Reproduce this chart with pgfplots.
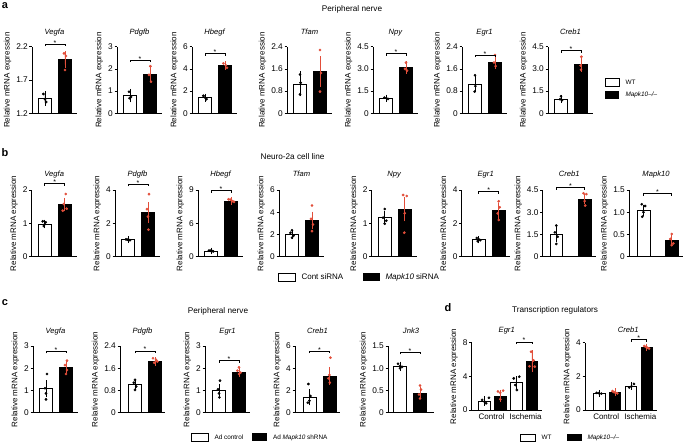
\documentclass[border=0pt]{standalone}
\usepackage{fontspec}
\setmainfont{Liberation Sans}
\usepackage{pgfplots}
\pgfplotsset{compat=1.18}
\definecolor{ptred}{RGB}{226,78,58}
\newcommand\fTick{\fontsize{8.3}{9}\selectfont}
\newcommand\fYl{\fontsize{8}{9}\selectfont}
\newcommand\fGene{\fontsize{7.6}{8}\selectfont\itshape}
\newcommand\fSec{\fontsize{8.2}{9}\selectfont}
\newcommand\fLeg{\fontsize{6.4}{7}\selectfont}
\newcommand\fLegB{\fontsize{8}{9}\selectfont}
\newcommand\fStar{\fontsize{7}{7}\selectfont}
\newcommand\fCat{\fontsize{8}{9}\selectfont}
\newcommand\fLet{\fontsize{11}{12}\selectfont\bfseries}
\newcommand{\sig}[3]{%
  \draw[line width=0.5pt] (axis cs:#1,#3) ++(0pt,-2.2pt) -- ++(0pt,2.2pt) -- (axis cs:#2,#3) -- ++(0pt,-2.2pt);
  \node[font=\fStar, inner sep=0pt, anchor=base, yshift=-1pt] at (axis cs:{(#1+#2)/2},#3) {*};}
\pgfplotsset{
  base/.style={scale only axis, width=45pt, xmin=0.35, xmax=2.6,
    axis x line=bottom, axis y line=left, axis line style={-, line width=0.55pt},
    xtick=\empty, tick align=outside, major tick length=2.5pt,
    tick style={line width=0.55pt, black},
    yticklabel style={font=\fTick, inner sep=1.5pt}, /pgf/number format/assume math mode=true,
    ylabel={Relative mRNA expression}, ylabel style={font=\fYl},
    every axis title/.style={at={(0.5,1)}, anchor=base, font=\fGene},
    clip mode=individual, anchor=south west, bar width=0.65},
  rowa/.style={base, height=66.6pt, title style={yshift=12.5pt}},
  rowb/.style={base, height=66.7pt, title style={yshift=13.5pt}},
  rowc/.style={base, height=66.7pt, title style={yshift=12pt}},
  rowd/.style={base, height=67.3pt, title style={yshift=10pt}},
  wt/.style={ybar, bar shift=0pt, fill=white, draw=black, line width=0.55pt,
    error bars/.cd, y dir=both, y explicit, error bar style={black, line width=0.55pt},
    error mark options={black, line width=0.55pt, mark size=3pt}},
  ko/.style={ybar, bar shift=0pt, fill=black, draw=black, line width=0.55pt,
    error bars/.cd, y dir=both, y explicit, error bar style={ptred, line width=0.55pt},
    error mark options={ptred, line width=0.55pt, mark size=3pt}},
  wp/.style={only marks, mark=*, mark size=1.15pt, black},
  kp/.style={only marks, mark=*, mark size=1.15pt, ptred, mark options={draw=ptred, fill=ptred}},
}
\begin{document}
\begin{tikzpicture}[x=1pt,y=1pt]
\path[use as bounding box] (0,0) rectangle (685,443);

% ================= Row a =================
\node[font=\fLet] at (5,437) {a};
\node[font=\fSec] at (352,434) {Peripheral nerve};

\begin{axis}[rowa, at={(32pt,329.7pt)}, ymin=1.2, ymax=2.2, ytick={1.2,1.7,2.2}, yticklabels={1.2,1.7,2.2}, title={Vegfa}]
\addplot[wt] coordinates {(1,1.42) +- (0,0.065)};
\addplot[ko] coordinates {(2,2.01) +- (0,0.08)};
\addplot[wp] coordinates {(0.92,1.49) (1.0,1.41) (1.06,1.37)};
\addplot[kp] coordinates {(1.95,2.10) (2.05,2.06) (2.0,1.85)};
\sig{1}{2}{2.24}
\end{axis}

\begin{axis}[rowa, at={(117pt,329.7pt)}, ymin=0, ymax=3, ytick={0,1,2,3}, yticklabels={0,1,2,3}, title={Pdgfb}]
\addplot[wt] coordinates {(1,0.80) +- (0,0.17)};
\addplot[ko] coordinates {(2,1.76) +- (0,0.22)};
\addplot[wp] coordinates {(0.95,0.97) (1.05,0.74) (0.98,0.68)};
\addplot[kp] coordinates {(2.02,2.12) (1.95,1.73) (2.05,1.42)};
\sig{1}{2}{2.4}
\end{axis}

\begin{axis}[rowa, at={(192pt,329.7pt)}, ymin=0, ymax=6, ytick={0,2,4,6}, yticklabels={0,2,4,6}, title={Hbegf}]
\addplot[wt] coordinates {(1,1.42) +- (0,0.09)};
\addplot[ko] coordinates {(2,4.30) +- (0,0.12)};
\addplot[wp] coordinates {(0.92,1.58) (1.0,1.42) (1.08,1.27)};
\addplot[kp] coordinates {(1.92,4.50) (2.04,4.32) (2.1,4.10)};
\sig{1}{2}{5.4}
\end{axis}

\begin{axis}[rowa, at={(287pt,329.7pt)}, ymin=0, ymax=2.4, ytick={0,0.8,1.6,2.4}, yticklabels={0,0.8,1.6,2.4}, title={Tfam}]
\addplot[wt] coordinates {(1,1.06) +- (0,0.34)};
\addplot[ko] coordinates {(2,1.50) +- (0,0.44)};
\addplot[wp] coordinates {(1.0,1.40) (1.03,1.10) (1.0,0.68)};
\addplot[kp] coordinates {(2.0,2.28) (2.05,1.45) (2.0,0.78)};
\end{axis}

\begin{axis}[rowa, at={(373pt,329.7pt)}, ymin=0, ymax=4.5, ytick={0,1.5,3,4.5}, yticklabels={0,1.5,3.0,4.5}, title={Npy}]
\addplot[wt] coordinates {(1,1.02) +- (0,0.04)};
\addplot[ko] coordinates {(2,3.10) +- (0,0.22)};
\addplot[wp] coordinates {(0.92,1.06) (1.02,1.02) (1.1,0.97)};
\addplot[kp] coordinates {(2.0,3.42) (1.95,3.00) (2.05,2.88)};
\sig{1}{2}{4.05}
\end{axis}

\begin{axis}[rowa, at={(462pt,329.7pt)}, ymin=0, ymax=2.4, ytick={0,0.8,1.6,2.4}, yticklabels={0,0.8,1.6,2.4}, title={Egr1}]
\addplot[wt] coordinates {(1,1.04) +- (0,0.18)};
\addplot[ko] coordinates {(2,1.85) +- (0,0.14)};
\addplot[wp] coordinates {(1.0,1.37) (1.02,0.98) (0.98,0.78)};
\addplot[kp] coordinates {(2.0,2.10) (1.95,1.83) (2.03,1.70)};
\sig{1}{2}{2.1}
\end{axis}

\begin{axis}[rowa, at={(548pt,329.7pt)}, ymin=0, ymax=4.5, ytick={0,1.5,3,4.5}, yticklabels={0,1.5,3.0,4.5}, title={Creb1}]
\addplot[wt] coordinates {(1,0.98) +- (0,0.07)};
\addplot[ko] coordinates {(2,3.32) +- (0,0.30)};
\addplot[wp] coordinates {(1.0,1.15) (0.95,0.95) (1.05,0.88)};
\addplot[kp] coordinates {(2.02,3.82) (1.98,3.22) (2.0,2.94)};
\sig{1}{2}{4.23}
\end{axis}

\draw[line width=0.5pt, fill=white] (605,357) rectangle (619,365);
\node[font=\fLeg, anchor=west] at (622,361) {WT};
\fill[black] (605,344) rectangle (619,352);
\node[font=\fLeg, anchor=west] at (622,348) {\textit{Mapk10–/–}};

% ================= Row b =================
\node[font=\fLet] at (5,290) {b};
\node[font=\fSec] at (292.5,286) {Neuro-2a cell line};

\begin{axis}[rowb, at={(31.7pt,186.3pt)}, ymin=0, ymax=2, ytick={0,1,2}, yticklabels={0,1,2}, title={Vegfa}]
\addplot[wt] coordinates {(1,0.98) +- (0,0.04)};
\addplot[ko] coordinates {(2,1.56) +- (0,0.11)};
\addplot[wp] coordinates {(0.9,1.06) (1.05,1.03) (1.0,0.97) (0.95,0.92)};
\addplot[kp] coordinates {(2.05,1.88) (1.95,1.58) (2.1,1.44) (1.9,1.38)};
\sig{1}{2}{2.19}
\end{axis}

\begin{axis}[rowb, at={(115pt,186.3pt)}, ymin=0, ymax=4, ytick={0,2,4}, yticklabels={0,2,4}, title={Pdgfb}]
\addplot[wt] coordinates {(1,1.02) +- (0,0.02)};
\addplot[ko] coordinates {(2,2.65) +- (0,0.45)};
\addplot[wp] coordinates {(0.9,1.04) (0.97,1.02) (1.04,1.01) (1.1,0.99)};
\addplot[kp] coordinates {(2.05,3.75) (1.95,2.85) (2.0,2.40) (2.02,1.62)};
\sig{1}{2}{4.35}
\end{axis}

\begin{axis}[rowb, at={(198pt,186.3pt)}, ymin=0, ymax=9, ytick={0,4.5,9}, yticklabels={0,6,9}, title={Hbegf}]
\addplot[wt] coordinates {(1,0.77) +- (0,0.05)};
\addplot[ko] coordinates {(2,7.52) +- (0,0.12)};
\addplot[wp] coordinates {(0.9,0.82) (0.98,0.80) (1.05,0.75) (1.12,0.72)};
\addplot[kp] coordinates {(1.88,7.75) (1.98,7.68) (2.08,7.50) (2.15,7.40)};
\sig{1}{2}{8.9}
\end{axis}

\begin{axis}[rowb, at={(279pt,186.3pt)}, ymin=0, ymax=6, ytick={0,2,4,6}, yticklabels={0,2,4,6}, title={Tfam}]
\addplot[wt] coordinates {(1,1.98) +- (0,0.14)};
\addplot[ko] coordinates {(2,3.28) +- (0,0.50)};
\addplot[wp] coordinates {(1.0,2.38) (0.92,2.15) (1.08,1.90) (1.0,1.70)};
\addplot[kp] coordinates {(2.0,4.60) (1.95,3.40) (2.05,2.90) (2.0,2.30)};
\end{axis}

\begin{axis}[rowb, at={(371.7pt,186.3pt)}, ymin=0, ymax=2, ytick={0,1,2}, yticklabels={0,1,2}, title={Npy}]
\addplot[wt] coordinates {(1,1.17) +- (0,0.10)};
\addplot[ko] coordinates {(2,1.42) +- (0,0.27)};
\addplot[wp] coordinates {(1.0,1.43) (0.92,1.17) (1.08,1.08) (1.0,0.99)};
\addplot[kp] coordinates {(1.92,1.85) (2.1,1.82) (2.0,1.30) (1.98,0.72)};
\end{axis}

\begin{axis}[rowb, at={(461.7pt,186.3pt)}, width=48pt, xmin=0.15, xmax=2.55, ymin=0, ymax=4, ytick={0,2,4}, yticklabels={0,2,4}, title={Egr1}]
\addplot[wt] coordinates {(1,1.02) +- (0,0.04)};
\addplot[ko] coordinates {(2,2.76) +- (0,0.30)};
\addplot[wp] coordinates {(0.9,1.12) (1.0,1.04) (1.08,0.99) (0.95,0.93)};
\addplot[kp] coordinates {(2.0,3.32) (2.05,2.96) (1.95,2.60) (2.0,2.20)};
\sig{1}{2}{3.9}
\end{axis}

\begin{axis}[rowb, at={(542.7pt,186.3pt)}, width=53pt, xmin=0.52, xmax=2.39, bar width=0.44, ymin=0, ymax=4.5, ytick={0,1.5,3,4.5}, yticklabels={0,1.5,3.0,4.5}, title={Creb1}]
\addplot[wt] coordinates {(1,1.53) +- (0,0.33)};
\addplot[ko] coordinates {(2,3.90) +- (0,0.16)};
\addplot[wp] coordinates {(1.0,2.10) (0.95,1.64) (1.05,1.35) (1.0,0.86)};
\addplot[kp] coordinates {(1.96,4.28) (2.06,4.22) (2.0,3.75) (2.02,3.45)};
\sig{1}{2}{4.68}
\end{axis}

\begin{axis}[rowb, at={(629pt,186.3pt)}, width=54pt, xmin=0.49, xmax=2.4, bar width=0.46, ymin=0, ymax=1.5, ytick={0,0.5,1,1.5}, yticklabels={0,0.5,1.0,1.5}, title={Mapk10}]
\addplot[wt] coordinates {(1,1.04) +- (0,0.06)};
\addplot[ko] coordinates {(2,0.37) +- (0,0.06)};
\addplot[wp] coordinates {(0.94,1.18) (1.06,1.14) (1.0,1.00) (0.96,0.90)};
\addplot[kp] coordinates {(2.0,0.51) (1.95,0.40) (2.06,0.30) (2.0,0.26)};
\sig{1}{2}{1.42}
\end{axis}

\draw[line width=0.5pt, fill=white] (278,162) rectangle (295,170);
\node[font=\fLegB, anchor=west] at (298,166) {Cont siRNA};
\fill[black] (363,162) rectangle (380,170);
\node[font=\fLegB, anchor=west] at (382,166) {\textit{Mapk10} siRNA};

% ================= Row c =================
\node[font=\fLet] at (5,140) {c};
\node[font=\fSec] at (218,132) {Peripheral nerve};

\begin{axis}[rowc, at={(33pt,30.3pt)}, ymin=0, ymax=3, ytick={0,1,2,3}, yticklabels={0,1,2,3}, title={Vegfa}]
\addplot[wt] coordinates {(1,1.08) +- (0,0.25)};
\addplot[ko] coordinates {(2,2.04) +- (0,0.13)};
\addplot[wp] coordinates {(1.05,1.74) (0.95,1.10) (1.0,0.87) (1.0,0.60)};
\addplot[kp] coordinates {(2.05,2.34) (1.95,2.14) (2.05,1.92) (2.0,1.74)};
\sig{1}{2}{2.77}
\end{axis}

\begin{axis}[rowc, at={(120pt,30.3pt)}, xmin=0.25, xmax=2.5, ymin=0, ymax=2.4, ytick={0,0.8,1.6,2.4}, yticklabels={0,0.8,1.6,2.4}, title={Pdgfb}]
\addplot[wt] coordinates {(1,1.02) +- (0,0.09)};
\addplot[ko] coordinates {(2,1.84) +- (0,0.05)};
\addplot[wp] coordinates {(1.0,1.18) (0.94,1.08) (1.06,0.94) (1.0,0.82)};
\addplot[kp] coordinates {(1.9,1.96) (2.05,1.90) (2.12,1.84) (1.96,1.80)};
\sig{1}{2}{2.22}
\end{axis}

\begin{axis}[rowc, at={(205pt,30.3pt)}, xmin=0.3, xmax=2.55, ymin=0, ymax=3, ytick={0,1,2,3}, yticklabels={0,1,2,3}, title={Egr1}]
\addplot[wt] coordinates {(1,1.00) +- (0,0.16)};
\addplot[ko] coordinates {(2,1.80) +- (0,0.06)};
\addplot[wp] coordinates {(1.05,1.44) (0.95,1.05) (1.0,0.87) (1.02,0.69)};
\addplot[kp] coordinates {(2.0,2.04) (1.92,1.89) (2.08,1.80) (2.0,1.74)};
\sig{1}{2}{2.34}
\end{axis}

\begin{axis}[rowc, at={(295pt,30.3pt)}, xmin=0.28, xmax=2.53, ymin=0, ymax=6, ytick={0,2,4,6}, yticklabels={0,2,4,6}, title={Creb1}]
\addplot[wt] coordinates {(1,1.38) +- (0,0.45)};
\addplot[ko] coordinates {(2,3.30) +- (0,0.55)};
\addplot[wp] coordinates {(0.95,2.58) (1.05,1.50) (1.0,1.08) (0.92,0.90)};
\addplot[kp] coordinates {(2.05,4.95) (2.0,3.39) (1.95,3.09) (2.02,2.70)};
\sig{1}{2}{5.55}
\end{axis}

\begin{axis}[rowc, at={(388pt,30.3pt)}, width=46pt, xmin=0.4, xmax=2.7, ymin=0, ymax=1.5, ytick={0,0.5,1,1.5}, yticklabels={0,0.5,1.0,1.5}, title={Jnk3}]
\addplot[wt] coordinates {(1,1.04) +- (0,0.04)};
\addplot[ko] coordinates {(2,0.44) +- (0,0.07)};
\addplot[wp] coordinates {(0.9,1.10) (1.0,1.05) (1.1,1.03) (1.0,1.00)};
\addplot[kp] coordinates {(2.0,0.61) (2.05,0.52) (1.95,0.41) (2.0,0.32)};
\sig{1}{2}{1.36}
\end{axis}

\draw[line width=0.5pt, fill=white] (191.7,1.5) rectangle (208.3,9.5);
\node[font=\fLeg, anchor=west] at (211,5.5) {Ad control};
\fill[black] (251.7,1.5) rectangle (266.7,9.5);
\node[font=\fLeg, anchor=west] at (269.5,5.5) {Ad \textit{Mapk10} shRNA};

% ================= Row d =================
\node[font=\fLet] at (448,135) {d};
\node[font=\fSec] at (555,133) {Transcription regulators};

\begin{axis}[rowd, at={(471.7pt,33pt)}, width=70pt, xmin=0.19, xmax=4.62, bar width=0.73, ymin=0, ymax=8, ytick={0,4,8}, yticklabels={0,4,8}, title={Egr1},
  xtick={1.45,3.6}, xticklabels={Control,Ischemia}, xticklabel style={font=\fCat, inner sep=1pt}, xtick style={draw=none}]
\addplot[wt] coordinates {(1,1.07) +- (0,0.18)};
\addplot[ko] coordinates {(2,1.66) +- (0,0.35)};
\addplot[wt] coordinates {(3,3.25) +- (0,0.38)};
\addplot[ko] coordinates {(4,5.80) +- (0,0.95)};
\addplot[wp] coordinates {(0.85,1.20) (1.0,0.99) (1.1,0.80) (1.28,1.45)};
\addplot[kp] coordinates {(1.85,2.20) (2.0,2.05) (2.18,2.30) (2.0,1.27)};
\addplot[wp] coordinates {(2.85,3.76) (3.2,3.96) (2.95,2.97) (3.05,2.38)};
\addplot[kp] coordinates {(3.95,6.93) (4.1,5.90) (3.85,5.20) (4.18,5.15)};
\sig{3}{4}{8.1}
\end{axis}

\begin{axis}[rowd, at={(585pt,33pt)}, width=72pt, xmin=0.12, xmax=4.65, bar width=0.73, ymin=0, ymax=4, ytick={0,2,4}, yticklabels={0,2,4}, title={Creb1}, title style={at={(0.6,1)}},
  xtick={1.45,3.6}, xticklabels={Control,Ischemia}, xticklabel style={font=\fCat, inner sep=1pt}, xtick style={draw=none}]
\addplot[wt] coordinates {(1,0.99) +- (0,0.02)};
\addplot[ko] coordinates {(2,1.05) +- (0,0.05)};
\addplot[wt] coordinates {(3,1.43) +- (0,0.06)};
\addplot[ko] coordinates {(4,3.72) +- (0,0.05)};
\addplot[wp] coordinates {(0.85,1.02) (1.0,1.00) (1.15,0.97)};
\addplot[kp] coordinates {(1.85,1.12) (1.95,1.06) (2.05,1.02) (2.15,0.99)};
\addplot[wp] coordinates {(2.9,1.34) (3.05,1.40) (3.2,1.55)};
\addplot[kp] coordinates {(3.85,3.80) (3.95,3.75) (4.05,3.70) (4.15,3.65)};
\sig{3}{4}{4.2}
\end{axis}

\draw[line width=0.5pt, fill=white] (520,1.5) rectangle (535,9);
\node[font=\fLeg, anchor=west] at (538,5.3) {WT};
\fill[black] (566.7,1.5) rectangle (581.7,9);
\node[font=\fLeg, anchor=west] at (584,5.3) {\textit{Mapk10–/–}};

\end{tikzpicture}
\end{document}
